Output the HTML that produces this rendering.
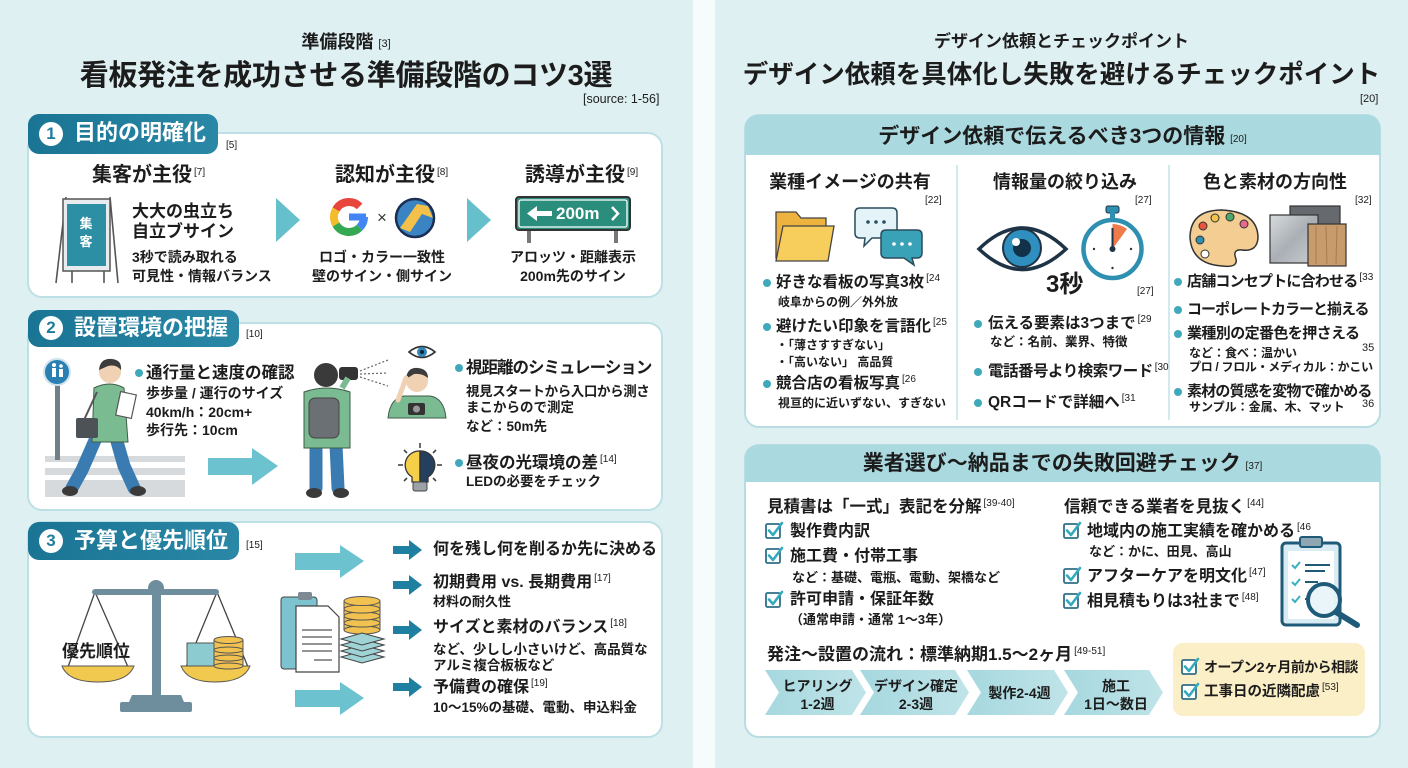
<!DOCTYPE html>
<html lang="ja"><head><meta charset="utf-8">
<style>
*{margin:0;padding:0;box-sizing:border-box}
body{width:1408px;height:768px;overflow:hidden;position:relative;background:#f6fbfc;font-family:"Liberation Sans","Noto Sans CJK JP",sans-serif;color:#1c1c1c}
.t{position:absolute;white-space:nowrap;line-height:1;font-weight:bold}
.n{font-weight:normal}
.w{color:#fff}
.r{font-size:10px;font-weight:normal;position:relative;top:-6px;margin-left:2px;letter-spacing:0}
.c{text-align:center}
</style></head><body>
<svg width="1408" height="768" style="position:absolute;left:0;top:0" xmlns="http://www.w3.org/2000/svg">
<defs>
<symbol id="cb" viewBox="0 0 20 20"><rect x="1" y="3" width="14" height="14" rx="1.5" fill="#fff" stroke="#2f6f88" stroke-width="1.8"/><path d="M4 9.5 L8 14 L17 2" fill="none" stroke="#35aabd" stroke-width="2.6" stroke-linecap="round" stroke-linejoin="round"/></symbol>
<linearGradient id="tabg" x1="0" x2="1"><stop offset="0" stop-color="#1a7494"/><stop offset="1" stop-color="#2a88a6"/></linearGradient>
<linearGradient id="stp" x1="0" x2="1"><stop offset="0" stop-color="#a6d8df"/><stop offset="1" stop-color="#bfe4e8"/></linearGradient>
<linearGradient id="silver" x1="0" x2="1" y1="0" y2="1"><stop offset="0" stop-color="#d8dcdf"/><stop offset="0.5" stop-color="#a9afb4"/><stop offset="1" stop-color="#c9ced2"/></linearGradient>
</defs>
<rect x="0" y="0" width="693" height="768" fill="#dff0f3"/>
<rect x="715" y="0" width="693" height="768" fill="#dff0f3"/>

<rect x="28" y="133" width="634" height="164" rx="14" fill="#fff" stroke="#bde0e6" stroke-width="2"/>
<rect x="28" y="114" width="190" height="40" rx="11" fill="url(#tabg)"/>
<circle cx="51" cy="134" r="12" fill="#fff"/>
<rect x="28" y="323" width="634" height="187" rx="14" fill="#fff" stroke="#bde0e6" stroke-width="2"/>
<rect x="28" y="310" width="211" height="37" rx="11" fill="url(#tabg)"/>
<circle cx="51" cy="328" r="12" fill="#fff"/>
<rect x="28" y="522" width="634" height="215" rx="14" fill="#fff" stroke="#bde0e6" stroke-width="2"/>
<rect x="28" y="522" width="211" height="38" rx="11" fill="url(#tabg)"/>
<circle cx="51" cy="541" r="12" fill="#fff"/>

<g stroke="#555" stroke-width="1.6" fill="none">
<path d="M66 197 L56 283 M110 197 L118 283 M72 270 L72 283 M104 270 L104 283"/>
</g>
<rect x="63" y="199" width="47" height="72" fill="#e8ecee" stroke="#555" stroke-width="1.5"/>
<rect x="67" y="204" width="39" height="62" fill="#2d8fa3"/>
<text x="86" y="228" font-size="13" fill="#fff" text-anchor="middle" font-weight="bold" font-family="Noto Sans CJK JP">集</text>
<text x="86" y="246" font-size="13" fill="#fff" text-anchor="middle" font-weight="bold" font-family="Noto Sans CJK JP">客</text>
<polygon points="276,198 300,220 276,242" fill="#66c0cc"/>
<polygon points="467,198 491,220 467,242" fill="#66c0cc"/>
<g fill="none" stroke-width="8">
<path d="M359.6 206.4 A15 15 0 0 0 336 209.5" stroke="#e8453c"/>
<path d="M336 209.5 A15 15 0 0 0 336 224.5" stroke="#f4bb2a"/>
<path d="M336 224.5 A15 15 0 0 0 359.6 227.6" stroke="#34a853"/>
<path d="M359.6 227.6 A15 15 0 0 0 364 217" stroke="#4285f4"/>
<path d="M349 217 L366 217" stroke="#4285f4" stroke-width="7"/>
</g>
<text x="382" y="223" font-size="17" text-anchor="middle" fill="#333" font-family="Liberation Sans">×</text>
<circle cx="415" cy="218" r="19" fill="#3a84c4" stroke="#1b2f55" stroke-width="2.5"/>
<polygon points="400,228 417,204 428,206 433,218 422,214 410,232" fill="#f3c14a"/>
<rect x="527" y="228" width="4" height="15" fill="#777"/>
<rect x="614" y="228" width="4" height="15" fill="#777"/>
<rect x="516" y="197" width="114" height="33" rx="3" fill="#2b8d7b" stroke="#333" stroke-width="2"/>
<rect x="519" y="200" width="108" height="27" rx="2" fill="none" stroke="#fff" stroke-width="1.3"/>
<path d="M527 213.5 L537 206 L537 211 L552 211 L552 216 L537 216 L537 221 Z" fill="#fff"/>
<path d="M612 207 L618 213.5 L612 220" fill="none" stroke="#fff" stroke-width="2.5"/>

<rect x="45" y="456" width="140" height="6" fill="#d6dadc"/>
<rect x="45" y="468" width="140" height="7" fill="#d6dadc"/>
<rect x="45" y="480" width="140" height="17" fill="#d6dadc"/>
<rect x="55" y="382" width="5" height="78" fill="#6f808a"/>
<circle cx="57" cy="372" r="13" fill="#2a7fb3" stroke="#cfe3ec" stroke-width="2"/>
<g fill="#fff"><circle cx="54" cy="365" r="2"/><rect x="52" y="368" width="4" height="9"/><circle cx="61" cy="366" r="1.8"/><rect x="59" y="369" width="4" height="8"/></g>
<g>
<path d="M96 438 L82 470 L72 488" stroke="#3a7cb1" stroke-width="13" fill="none" stroke-linecap="round"/>
<path d="M116 438 L124 466 L134 488" stroke="#3a7cb1" stroke-width="13" fill="none" stroke-linecap="round"/>
<ellipse cx="70" cy="491" rx="8" ry="5" fill="#3a3a3a"/><ellipse cx="138" cy="491" rx="8" ry="5" fill="#3a3a3a"/>
<path d="M94 388 Q110 380 124 388 L128 442 L92 442 Z" fill="#7bbb92" stroke="#3e5c48" stroke-width="1"/>
<rect x="118" y="393" width="16" height="24" fill="#fff" stroke="#555" stroke-width="1.2" transform="rotate(12 126 405)"/>
<path d="M97 392 L84 420" stroke="#555" stroke-width="2"/>
<rect x="76" y="418" width="22" height="20" rx="2" fill="#4d5257"/>
<circle cx="110" cy="372" r="11" fill="#f0d1b3"/>
<path d="M99 370 Q100 358 112 359 Q122 360 121 370 Q116 364 108 366 Z" fill="#3c3c3c"/>
</g>
<polygon points="208,458 252,458 252,448 278,466 252,485 252,475 208,475" fill="#6cc3cf"/>
<g>
<path d="M316 445 L316 488" stroke="#3a7cb1" stroke-width="13" stroke-linecap="round"/>
<path d="M336 445 L338 488" stroke="#3a7cb1" stroke-width="13" stroke-linecap="round"/>
<ellipse cx="314" cy="493" rx="8" ry="5" fill="#3a3a3a"/><ellipse cx="341" cy="493" rx="8" ry="5" fill="#3a3a3a"/>
<path d="M304 392 Q327 384 350 392 L350 448 L304 448 Z" fill="#7bbb92" stroke="#3e5c48" stroke-width="1"/>
<rect x="309" y="398" width="30" height="40" rx="6" fill="#6b7075" stroke="#444" stroke-width="1"/>
<circle cx="326" cy="375" r="12" fill="#3a3a3a"/>
<rect x="339" y="367" width="19" height="13" rx="3" fill="#333"/>
<path d="M342 388 L348 378" stroke="#7bbb92" stroke-width="6"/>
</g>
<g stroke="#666" stroke-width="1.2" stroke-dasharray="2 2"><line x1="360" y1="371" x2="388" y2="360"/><line x1="360" y1="374" x2="388" y2="373"/><line x1="360" y1="377" x2="388" y2="386"/></g>
<path d="M409 352 Q422 341 435 352 Q422 363 409 352 Z" fill="#fff" stroke="#333" stroke-width="1.8"/>
<circle cx="422" cy="352" r="5" fill="#2f86b8"/><circle cx="422" cy="352" r="2" fill="#123"/>
<g>
<path d="M388 418 Q390 398 404 396 L430 396 Q444 398 446 418 Z" fill="#7bbb92" stroke="#3e5c48" stroke-width="1"/>
<circle cx="417" cy="381" r="11" fill="#f0d1b3"/>
<path d="M406 379 Q407 367 418 368 Q428 369 428 378 Q422 373 414 374 Z" fill="#3c3c3c"/>
<path d="M398 400 L406 378" stroke="#f0d1b3" stroke-width="5" stroke-linecap="round"/>
<rect x="408" y="403" width="17" height="12" rx="2" fill="#333"/><circle cx="416.5" cy="409" r="3.5" fill="#999"/>
</g>
<g stroke="#444" stroke-width="1.6"><line x1="420" y1="443" x2="420" y2="448"/><line x1="398" y1="465" x2="403" y2="465"/><line x1="437" y1="465" x2="442" y2="465"/><line x1="404" y1="450" x2="407" y2="453"/><line x1="436" y1="450" x2="433" y2="453"/><line x1="404" y1="481" x2="407" y2="478"/><line x1="436" y1="481" x2="433" y2="478"/></g>
<path d="M420 451 A14 14 0 0 0 412 477 L412 482 L420 482 Z" fill="#f5cf4a" stroke="#333" stroke-width="1.3"/>
<path d="M420 451 A14 14 0 0 1 428 477 L428 482 L420 482 Z" fill="#24405e" stroke="#333" stroke-width="1.3"/>
<rect x="413" y="482" width="14" height="9" rx="2" fill="#9aa2a8" stroke="#444" stroke-width="1"/>

<line x1="95" y1="592" x2="68" y2="667" stroke="#444" stroke-width="1.3"/>
<line x1="95" y1="592" x2="128" y2="667" stroke="#444" stroke-width="1.3"/>
<line x1="217" y1="592" x2="186" y2="667" stroke="#444" stroke-width="1.3"/>
<line x1="217" y1="592" x2="248" y2="667" stroke="#444" stroke-width="1.3"/>
<rect x="92" y="589" width="127" height="6" rx="3" fill="#6e8d9d"/>
<rect x="152" y="592" width="9" height="103" fill="#6e8d9d"/>
<circle cx="156" cy="588" r="8" fill="#6e8d9d"/>
<path d="M132 695 L181 695 L184 702 L129 702 Z" fill="#6e8d9d"/>
<rect x="120" y="702" width="72" height="10" rx="2" fill="#6e8d9d"/>
<path d="M62 666 L134 666 Q128 682 98 682 Q68 682 62 666 Z" fill="#f1c94f" stroke="#555" stroke-width="1"/>
<path d="M181 666 L250 666 Q244 682 215 682 Q187 682 181 666 Z" fill="#f1c94f" stroke="#555" stroke-width="1"/>
<rect x="187" y="643" width="27" height="23" fill="#8ccbcf" stroke="#555" stroke-width="1"/>
<g fill="#f1c250" stroke="#555" stroke-width="1">
<rect x="214" y="640" width="29" height="26"/>
<ellipse cx="228.5" cy="666" rx="14.5" ry="3"/>
<ellipse cx="228.5" cy="658" rx="14.5" ry="3"/>
<ellipse cx="228.5" cy="650" rx="14.5" ry="3"/>
<ellipse cx="228.5" cy="640" rx="14.5" ry="3.5"/>
</g>
<polygon points="295,553 340,553 340,545 364,561 340,578 340,570 295,570" fill="#6cc3cf"/>
<polygon points="295,690 340,690 340,682 364,698 340,715 340,707 295,707" fill="#6cc3cf"/>
<rect x="281" y="597" width="36" height="72" rx="3" fill="#7cc2cf" stroke="#444" stroke-width="1"/>
<rect x="298" y="592" width="14" height="8" rx="2" fill="#7d8a94"/>
<path d="M296 606 L328 606 L339 617 L339 672 L296 672 Z" fill="#fff" stroke="#444" stroke-width="1.2"/>
<g stroke="#555" stroke-width="1.3"><line x1="302" y1="630" x2="332" y2="630"/><line x1="302" y1="637" x2="332" y2="637"/><line x1="302" y1="644" x2="332" y2="644"/><line x1="302" y1="651" x2="332" y2="651"/><line x1="314" y1="660" x2="332" y2="660"/></g>
<g fill="#f1c250" stroke="#555" stroke-width="1">
<rect x="344" y="601" width="36" height="29"/>
<ellipse cx="362" cy="630" rx="18" ry="4"/><ellipse cx="362" cy="623" rx="18" ry="4"/><ellipse cx="362" cy="616" rx="18" ry="4"/><ellipse cx="362" cy="609" rx="18" ry="4"/><ellipse cx="362" cy="601" rx="18" ry="4.5"/>
</g>
<g fill="#9fd3d6" stroke="#444" stroke-width="1">
<polygon points="362,651 384,657 362,663 341,657"/>
<polygon points="362,645 384,651 362,657 341,651"/>
<polygon points="362,639 384,645 362,651 341,645"/>
<polygon points="362,633 384,639 362,645 341,639"/>
</g>
<g fill="#1f7fa1">
<polygon points="393,546 409,546 409,540 422,550 409,560 409,554 393,554"/>
<polygon points="393,581 409,581 409,575 422,585 409,595 409,589 393,589"/>
<polygon points="393,626 409,626 409,620 422,630 409,640 409,634 393,634"/>
<polygon points="393,683 409,683 409,677 422,687 409,697 409,691 393,691"/>
</g>
<g fill="#3fa9bb"><circle cx="139" cy="373" r="4"/><circle cx="459" cy="368" r="4"/><circle cx="459" cy="463" r="4"/></g>

<rect x="745" y="115" width="635" height="312" rx="14" fill="#fff" stroke="#b7dde3" stroke-width="2"/>
<path d="M745 155 L745 129 Q745 115 759 115 L1366 115 Q1380 115 1380 129 L1380 155 Z" fill="#aadae0"/>
<line x1="957" y1="165" x2="957" y2="420" stroke="#c4e2e7" stroke-width="1.5"/>
<line x1="1169" y1="165" x2="1169" y2="420" stroke="#c4e2e7" stroke-width="1.5"/>
<rect x="745" y="445" width="635" height="292" rx="14" fill="#fff" stroke="#b7dde3" stroke-width="2"/>
<path d="M745 482 L745 459 Q745 445 759 445 L1366 445 Q1380 445 1380 459 L1380 482 Z" fill="#aadae0"/>

<path d="M776 212 L796 212 L801 218 L826 218 L826 258 L776 258 Z" fill="#eeb23e" stroke="#444" stroke-width="1.3"/>
<path d="M783 226 L834 226 L828 261 L776 261 Z" fill="#f7cd5c" stroke="#444" stroke-width="1.3"/>
<path d="M860 208 L892 208 Q897 208 897 213 L897 233 Q897 238 892 238 L872 238 L864 246 L865 238 L860 238 Q855 238 855 233 L855 213 Q855 208 860 208 Z" fill="#e4f3f7" stroke="#2b4c5e" stroke-width="1.5"/>
<g fill="#2b4c5e"><circle cx="868" cy="222" r="1.8"/><circle cx="876" cy="222" r="1.8"/><circle cx="884" cy="222" r="1.8"/></g>
<path d="M886 230 L917 230 Q922 230 922 235 L922 253 Q922 258 917 258 L912 258 L914 265 L904 258 L886 258 Q881 258 881 253 L881 235 Q881 230 886 230 Z" fill="#3aa2b6" stroke="#2b4c5e" stroke-width="1.5"/>
<g fill="#fff"><circle cx="894" cy="244" r="1.8"/><circle cx="902" cy="244" r="1.8"/><circle cx="910" cy="244" r="1.8"/></g>
<path d="M979 249 Q1022 207 1066 249 Q1022 290 979 249 Z" fill="#fff" stroke="#1e3446" stroke-width="3.5"/>
<circle cx="1022" cy="248" r="19" fill="#2f8fbf" stroke="#1e3446" stroke-width="2"/>
<circle cx="1022" cy="248" r="9" fill="#12324a"/>
<circle cx="1016" cy="242" r="4" fill="#fff"/>
<rect x="1106" y="206" width="13" height="7" rx="2" fill="#2f8fb0" stroke="#1e3446" stroke-width="1"/>
<rect x="1110" y="212" width="5" height="7" fill="#2f8fb0"/>
<circle cx="1112.5" cy="249" r="29" fill="#fff" stroke="#2f8fb0" stroke-width="4.5"/>
<path d="M1112.5 249 L1112.5 224 A25 25 0 0 1 1127 229 Z" fill="#ef7a4c"/>
<line x1="1112.5" y1="249" x2="1112.5" y2="228" stroke="#1e3446" stroke-width="2"/>
<circle cx="1112.5" cy="249" r="3" fill="#1e3446"/>
<g fill="#333"><circle cx="1094" cy="249" r="1.2"/><circle cx="1131" cy="249" r="1.2"/><circle cx="1112.5" cy="268" r="1.2"/></g>
<path d="M1222 210 Q1258 212 1258 238 Q1257 252 1242 250 Q1232 249 1236 259 Q1238 268 1222 266 Q1192 264 1190 238 Q1190 210 1222 210 Z" fill="#f3cd92" stroke="#333" stroke-width="1.5"/>
<circle cx="1203" cy="226" r="4" fill="#e8533f" stroke="#333"/><circle cx="1215" cy="218" r="4" fill="#f1c34a" stroke="#333"/><circle cx="1230" cy="217" r="4" fill="#4aa96c" stroke="#333"/><circle cx="1244" cy="224" r="4" fill="#e66a8a" stroke="#333"/><circle cx="1200" cy="240" r="4" fill="#2f8fb0" stroke="#333"/><circle cx="1205" cy="254" r="4" fill="#fff" stroke="#333"/>
<rect x="1290" y="206" width="50" height="48" fill="#66696d" stroke="#333" stroke-width="1.2"/>
<rect x="1270" y="215" width="48" height="48" fill="url(#silver)" stroke="#333" stroke-width="1.2"/>
<rect x="1308" y="224" width="38" height="42" fill="#c79b6c" stroke="#333" stroke-width="1.2"/>
<g stroke="#a97c50" stroke-width="1"><line x1="1316" y1="226" x2="1316" y2="264"/><line x1="1326" y1="226" x2="1327" y2="264"/><line x1="1337" y1="226" x2="1336" y2="264"/></g>
<g fill="#3fa9bb">
<circle cx="767" cy="283" r="4"/><circle cx="767" cy="327" r="4"/><circle cx="767" cy="384" r="4"/>
<circle cx="978" cy="324" r="4"/><circle cx="978" cy="372" r="4"/><circle cx="978" cy="403" r="4"/>
<circle cx="1178" cy="282" r="4"/><circle cx="1178" cy="310" r="4"/><circle cx="1178" cy="334" r="4"/><circle cx="1178" cy="392" r="4"/>
</g>
<use href="#cb" x="765" y="521" width="20" height="20"/>
<use href="#cb" x="765" y="546" width="20" height="20"/>
<use href="#cb" x="765" y="590" width="20" height="20"/>
<use href="#cb" x="1063" y="521" width="20" height="20"/>
<use href="#cb" x="1063" y="566" width="20" height="20"/>
<use href="#cb" x="1063" y="591" width="20" height="20"/>
<rect x="1282" y="543" width="58" height="82" rx="4" fill="#d9ecf3" stroke="#1f5a78" stroke-width="3"/>
<rect x="1288" y="551" width="46" height="68" fill="#fff"/>
<rect x="1300" y="537" width="22" height="10" rx="2" fill="#8fa6b3" stroke="#1f5a78" stroke-width="2"/>
<g stroke="#3bb0c0" stroke-width="2" fill="none"><path d="M1292 565 l3 3 l5 -6"/><path d="M1292 582 l3 3 l5 -6"/><path d="M1292 599 l3 3 l5 -6"/></g>
<g stroke="#1f5a78" stroke-width="2"><line x1="1305" y1="565" x2="1330" y2="565"/><line x1="1305" y1="571" x2="1325" y2="571"/><line x1="1305" y1="582" x2="1318" y2="582"/><line x1="1305" y1="599" x2="1310" y2="599"/></g>
<circle cx="1324" cy="600" r="16" fill="#e5f3f8" fill-opacity="0.85" stroke="#1f5a78" stroke-width="4"/>
<line x1="1336" y1="612" x2="1357" y2="625" stroke="#1f5a78" stroke-width="6" stroke-linecap="round"/>
<polygon points="765,670 852,670 866,692.5 852,715 765,715 779,692.5" fill="url(#stp)"/>
<polygon points="860,670 955,670 969,692.5 955,715 860,715 874,692.5" fill="url(#stp)"/>
<polygon points="967,670 1054,670 1068,692.5 1054,715 967,715 981,692.5" fill="url(#stp)"/>
<polygon points="1064,670 1149,670 1163,692.5 1149,715 1064,715 1078,692.5" fill="url(#stp)"/>
<rect x="1173" y="643" width="192" height="73" rx="10" fill="#fbefc7"/>
<use href="#cb" x="1181" y="657" width="20" height="20"/>
<use href="#cb" x="1181" y="682" width="20" height="20"/>
</svg>

<div class="t c" style="left:0;width:692px;top:33px;font-size:18px">準備段階<span class="r" style="top:-1px;font-size:11px"> [3]</span></div>
<div class="t c" style="left:0;width:692px;top:62px;font-size:29px;letter-spacing:-0.3px">看板発注を成功させる準備段階のコツ3選</div>
<div class="t n" style="left:583px;top:93px;font-size:12.5px">[source: 1-56]</div>

<div class="t" style="left:45px;top:125px;font-size:17px;color:#1f7d9c;width:12px;text-align:center">1</div>
<div class="t w" style="left:74px;top:122px;font-size:22px">目的の明確化</div>
<div class="t n" style="left:226px;top:141px;font-size:10px">[5]</div>
<div class="t" style="left:92px;top:165px;font-size:20px">集客が主役<span class="r">[7]</span></div>
<div class="t" style="left:335px;top:165px;font-size:20px">認知が主役<span class="r">[8]</span></div>
<div class="t" style="left:525px;top:165px;font-size:20px">誘導が主役<span class="r">[9]</span></div>
<div class="t" style="left:132px;top:203px;font-size:17px">大大の虫立ち</div>
<div class="t" style="left:132px;top:223px;font-size:17px">自立ブサイン</div>
<div class="t" style="left:132px;top:250px;font-size:14px">3秒で読み取れる</div>
<div class="t" style="left:132px;top:269px;font-size:14px">可見性・情報バランス</div>
<div class="t c" style="left:302px;width:160px;top:250px;font-size:14px">ロゴ・カラー一致性</div>
<div class="t c" style="left:302px;width:160px;top:269px;font-size:14px">壁のサイン・側サイン</div>
<div class="t w" style="left:556px;top:205px;font-size:17px">200m</div>
<div class="t c" style="left:493px;width:160px;top:250px;font-size:14px">アロッツ・距離表示</div>
<div class="t c" style="left:493px;width:160px;top:269px;font-size:14px">200m先のサイン</div>

<div class="t" style="left:45px;top:319px;font-size:17px;color:#1f7d9c;width:12px;text-align:center">2</div>
<div class="t w" style="left:74px;top:317px;font-size:22px">設置環境の把握</div>
<div class="t n" style="left:246px;top:330px;font-size:10px">[10]</div>
<div class="t" style="left:146px;top:365px;font-size:16.5px">通行量と速度の確認</div>
<div class="t" style="left:146px;top:386px;font-size:14px">歩歩量 / 運行のサイズ</div>
<div class="t" style="left:146px;top:405px;font-size:14px">40km/h：20cm+</div>
<div class="t" style="left:146px;top:423px;font-size:14px">歩行先：10cm</div>
<div class="t" style="left:466px;top:360px;font-size:16.5px;letter-spacing:-1px">視距離のシミュレーション</div>
<div class="t" style="left:466px;top:385px;font-size:13.5px;letter-spacing:-0.4px">視見スタートから入口から測さ</div>
<div class="t" style="left:466px;top:401px;font-size:13.5px">まこからので測定</div>
<div class="t" style="left:466px;top:420px;font-size:13.5px">など：50m先</div>
<div class="t" style="left:466px;top:455px;font-size:16.5px">昼夜の光環境の差<span class="r">[14]</span></div>
<div class="t" style="left:466px;top:475px;font-size:13.5px">LEDの必要をチェック</div>

<div class="t" style="left:45px;top:532px;font-size:17px;color:#1f7d9c;width:12px;text-align:center">3</div>
<div class="t w" style="left:74px;top:530px;font-size:22px">予算と優先順位</div>
<div class="t n" style="left:246px;top:541px;font-size:10px">[15]</div>
<div class="t" style="left:62px;top:643px;font-size:17px">優先順位</div>
<div class="t" style="left:433px;top:542px;font-size:16px">何を残し何を削るか先に決める</div>
<div class="t" style="left:433px;top:575px;font-size:16px">初期費用 vs. 長期費用<span class="r">[17]</span></div>
<div class="t" style="left:433px;top:595px;font-size:13px">材料の耐久性</div>
<div class="t" style="left:433px;top:620px;font-size:16px">サイズと素材のバランス<span class="r">[18]</span></div>
<div class="t" style="left:433px;top:643px;font-size:13.5px">など、少しし小さいけど、高品質な</div>
<div class="t" style="left:433px;top:659px;font-size:13.5px">アルミ複合板板など</div>
<div class="t" style="left:433px;top:680px;font-size:16px">予備費の確保<span class="r">[19]</span></div>
<div class="t" style="left:433px;top:701px;font-size:13.5px">10〜15%の基礎、電動、申込料金</div>

<div class="t c" style="left:715px;width:693px;top:33px;font-size:17px">デザイン依頼とチェックポイント</div>
<div class="t c" style="left:715px;width:693px;top:63px;font-size:25.5px">デザイン依頼を具体化し失敗を避けるチェックポイント</div>
<div class="t n" style="left:1360px;top:94px;font-size:11px">[20]</div>
<div class="t c" style="left:745px;width:635px;top:126px;font-size:21px">デザイン依頼で伝えるべき3つの情報<span class="r" style="top:-1px"> [20]</span></div>
<div class="t c" style="left:760px;width:180px;top:173px;font-size:18px">業種イメージの共有</div>
<div class="t c" style="left:975px;width:180px;top:173px;font-size:18px">情報量の絞り込み</div>
<div class="t c" style="left:1185px;width:180px;top:173px;font-size:18px">色と素材の方向性</div>
<div class="t n" style="left:925px;top:196px;font-size:10px">[22]</div>
<div class="t n" style="left:1135px;top:196px;font-size:10px">[27]</div>
<div class="t n" style="left:1355px;top:196px;font-size:10px">[32]</div>

<div class="t" style="left:776px;top:275px;font-size:15.5px">好きな看板の写真3枚<span class="r">[24</span></div>
<div class="t" style="left:778px;top:296px;font-size:12px">岐阜からの例／外外放</div>
<div class="t" style="left:776px;top:319px;font-size:15.5px">避けたい印象を言語化<span class="r">[25</span></div>
<div class="t" style="left:776px;top:339px;font-size:12px">・「薄さすすぎない」</div>
<div class="t" style="left:776px;top:356px;font-size:12px">・「高いない」 高品質</div>
<div class="t" style="left:776px;top:376px;font-size:15.5px">競合店の看板写真<span class="r">[26</span></div>
<div class="t" style="left:778px;top:397px;font-size:12px">視亘的に近いずない、すぎない</div>

<div class="t" style="left:1046px;top:273px;font-size:24px">3秒</div>
<div class="t n" style="left:1137px;top:287px;font-size:10px">[27]</div>
<div class="t" style="left:988px;top:316px;font-size:15.5px">伝える要素は3つまで<span class="r">[29</span></div>
<div class="t" style="left:990px;top:336px;font-size:12.5px">など：名前、業界、特徴</div>
<div class="t" style="left:988px;top:364px;font-size:15.5px;letter-spacing:-0.5px">電話番号より検索ワード<span class="r">[30</span></div>
<div class="t" style="left:988px;top:395px;font-size:15.5px">QRコードで詳細へ<span class="r">[31</span></div>

<div class="t" style="left:1187px;top:274px;font-size:15px;letter-spacing:-0.8px">店舗コンセプトに合わせる<span class="r">[33</span></div>
<div class="t" style="left:1187px;top:302px;font-size:15px;letter-spacing:-1px">コーポレートカラーと揃える</div>
<div class="t" style="left:1187px;top:326px;font-size:15px;letter-spacing:-0.6px">業種別の定番色を押さえる</div>
<div class="t" style="left:1189px;top:347px;font-size:12px">など：食べ：温かい</div>
<div class="t n" style="left:1362px;top:343px;font-size:11px">35</div>
<div class="t" style="left:1189px;top:361px;font-size:12px;letter-spacing:-0.3px">プロ / フロル・メディカル：かこい</div>
<div class="t" style="left:1187px;top:384px;font-size:15px;letter-spacing:-0.8px">素材の質感を変物で確かめる</div>
<div class="t" style="left:1189px;top:401px;font-size:12px">サンプル：金属、木、マット</div>
<div class="t n" style="left:1362px;top:399px;font-size:11px">36</div>

<div class="t c" style="left:745px;width:635px;top:453px;font-size:21px">業者選び〜納品までの失敗回避チェック<span class="r" style="top:-1px"> [37]</span></div>
<div class="t" style="left:767px;top:499px;font-size:16.5px">見積書は「一式」表記を分解<span class="r">[39-40]</span></div>
<div class="t" style="left:790px;top:524px;font-size:16px">製作費内訳</div>
<div class="t" style="left:790px;top:549px;font-size:16px">施工費・付帯工事</div>
<div class="t" style="left:792px;top:571px;font-size:13px">など：基礎、電瓶、電動、架橋など</div>
<div class="t" style="left:790px;top:592px;font-size:16px">許可申請・保証年数</div>
<div class="t" style="left:790px;top:613px;font-size:13px">（通常申請・通常 1〜3年）</div>
<div class="t" style="left:1064px;top:499px;font-size:16.5px">信頼できる業者を見抜く<span class="r">[44]</span></div>
<div class="t" style="left:1087px;top:524px;font-size:16px">地域内の施工実績を確かめる<span class="r">[46</span></div>
<div class="t" style="left:1089px;top:545px;font-size:13px">など：かに、田見、高山</div>
<div class="t" style="left:1087px;top:569px;font-size:16px">アフターケアを明文化<span class="r">[47]</span></div>
<div class="t" style="left:1087px;top:594px;font-size:16px">相見積もりは3社まで<span class="r">[48]</span></div>
<div class="t" style="left:767px;top:646px;font-size:17px">発注〜設置の流れ：標準納期1.5〜2ヶ月<span class="r">[49-51]</span></div>
<div class="t c" style="left:770px;width:95px;top:677px;font-size:14px;line-height:18px">ヒアリング<br>1-2週</div>
<div class="t c" style="left:866px;width:100px;top:677px;font-size:14px;line-height:18px">デザイン確定<br>2-3週</div>
<div class="t c" style="left:972px;width:95px;top:686px;font-size:14px">製作2-4週</div>
<div class="t c" style="left:1070px;width:92px;top:677px;font-size:14px;line-height:18px">施工<br>1日〜数日</div>
<div class="t" style="left:1204px;top:660px;font-size:14px;letter-spacing:-0.6px">オープン2ヶ月前から相談</div>
<div class="t" style="left:1204px;top:685px;font-size:14.5px">工事日の近隣配慮<span class="r">[53]</span></div>
</body></html>
